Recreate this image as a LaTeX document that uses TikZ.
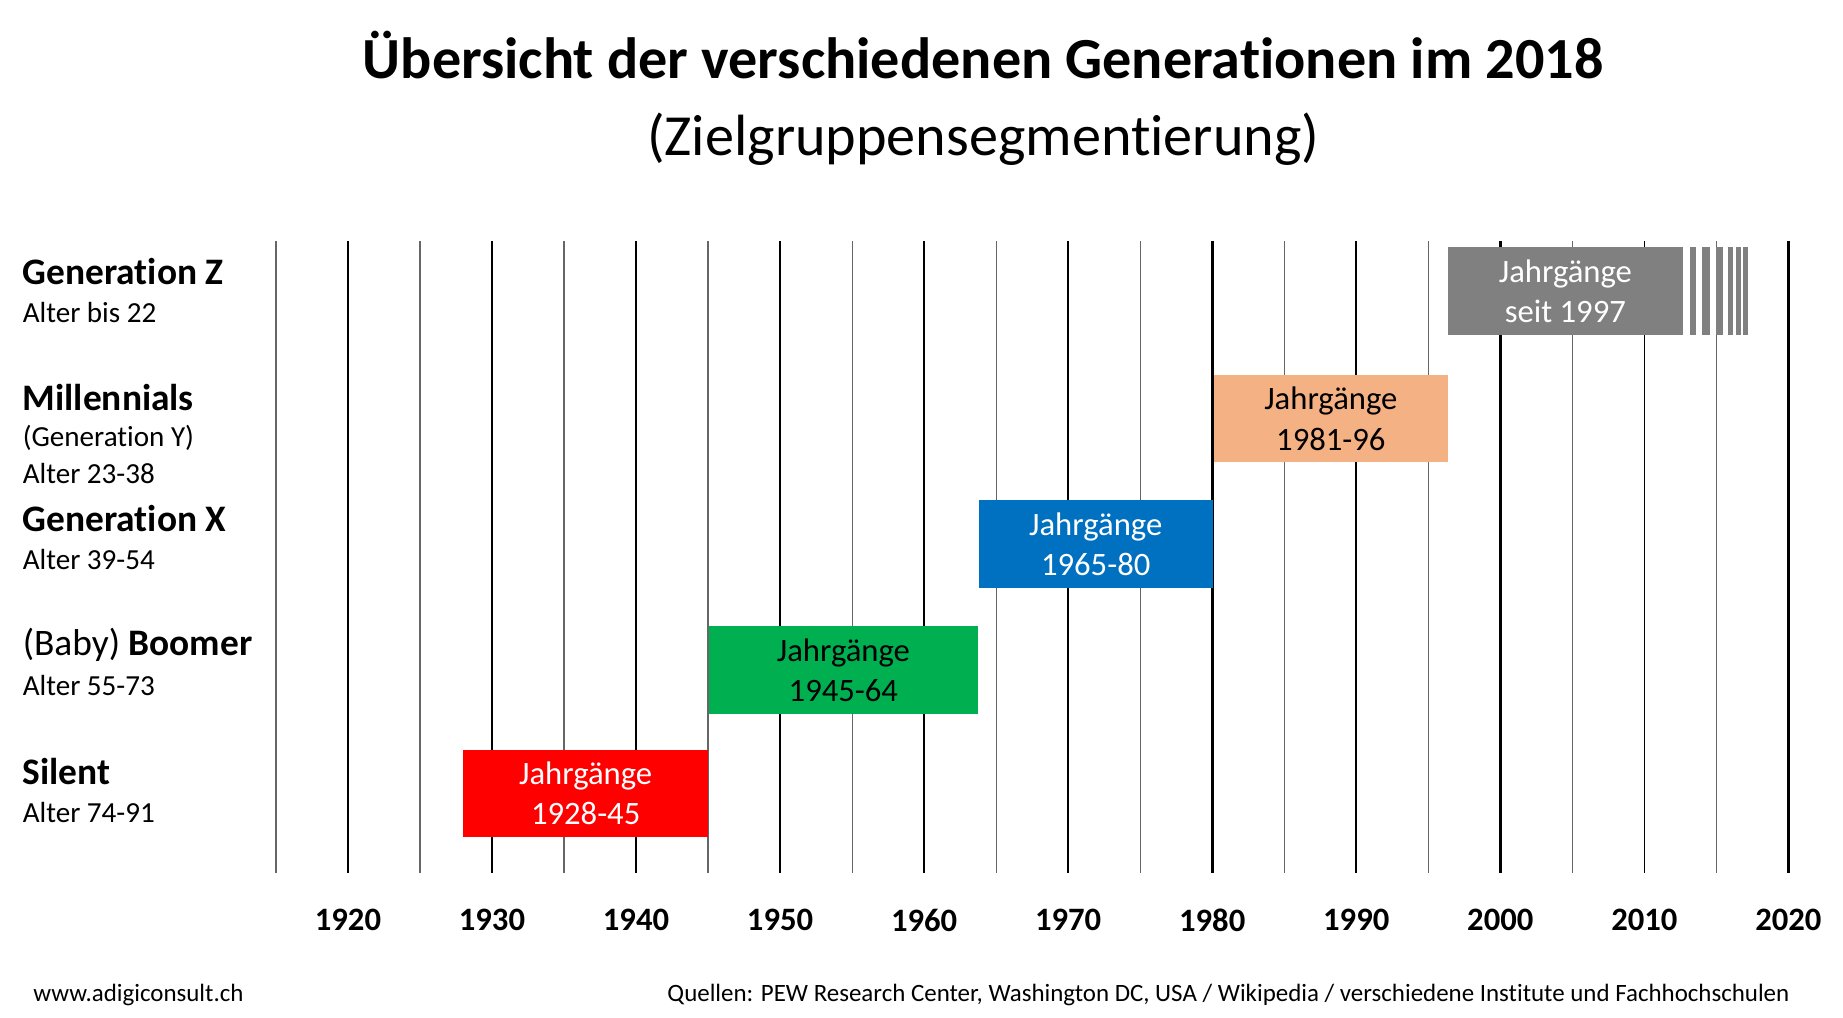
\documentclass[tikz,border=0pt]{standalone}
\usepackage{fontspec}
\setmainfont{Carlito}[Ligatures={NoCommon}]
\begin{document}
\begin{tikzpicture}[x=1pt,y=-1pt,
 bar/.style={draw=none,inner sep=0pt,anchor=north west,align=center,font=\fontsize{27.5}{34}\selectfont},
 lab/.style={anchor=west,inner sep=0pt},
 big/.style={font=\fontsize{31.5}{33}\selectfont\bfseries},
 small/.style={font=\fontsize{24.5}{26}\selectfont},
 yr/.style={font=\fontsize{27.5}{29}\selectfont\bfseries}]
\useasboundingbox (0,0) rectangle (1552,857);
\definecolor{gz}{RGB}{128,128,128}
\definecolor{mo}{RGB}{244,177,131}
\definecolor{gx}{RGB}{0,112,192}
\definecolor{bg}{RGB}{0,176,80}
\definecolor{sr}{RGB}{255,0,0}
% grid
\foreach \y in {1915,1925,...,2015}{\draw[gray!80!black,line width=1pt] ({293+(\y-1920)*12.13},203) -- ({293+(\y-1920)*12.13},735);}
\foreach \y in {1930,1950,1970,1990,2010}{\draw[black,line width=1.3pt] ({293+(\y-1920)*12.13},203) -- ({293+(\y-1920)*12.13},735);}
\foreach \y in {1920,1940,...,2020}{\draw[black,line width=2.2pt] ({293+(\y-1920)*12.13},203) -- ({293+(\y-1920)*12.13},735);}
\foreach \y in {1920,1930,...,2020}{\node[yr] (y\y) at ({293+(\y-1920)*12.13},775) {\y};}
% bars
\node[bar,fill=gz,text=white,minimum width=198pt,minimum height=74pt] (bz) at (1219,208) {Jahrgänge\\seit 1997};
\foreach \a/\b [count=\i] in {1423/1428,1433.5/1440,1445/1451,1455.5/1459,1462/1466,1468/1472}
  \fill[gz] (\a,208) rectangle (\b,282);
\node[bar,fill=mo,text=black,minimum width=197pt,minimum height=73pt] (bm) at (1022,316) {Jahrgänge\\1981-96};
\node[bar,fill=gx,text=white,minimum width=197pt,minimum height=74pt] (bx) at (824,421) {Jahrgänge\\1965-80};
\node[bar,fill=bg,text=black,minimum width=226pt,minimum height=74pt] (bb) at (597,527) {Jahrgänge\\1945-64};
\node[bar,fill=sr,text=white,minimum width=206pt,minimum height=74pt] (bs) at (390,631) {Jahrgänge\\1928-45};
% left labels
\node[lab,big] (l1) at (19,229) {Generation Z};
\node[lab,small] (l1a) at (19,263) {Alter bis 22};
\node[lab,big] (l2) at (19,335) {Millennials};
\node[lab,small] (l2a) at (19,369) {(Generation Y)};
\node[lab,small] (l2b) at (19,399) {Alter 23-38};
\node[lab,big] (l3) at (19,437) {Generation X};
\node[lab,small] (l3a) at (19,471) {Alter 39-54};
\node[lab,font=\fontsize{31.5}{33}\selectfont] (l4) at (19,543) {(Baby) \textbf{Boomer}};
\node[lab,small] (l4a) at (19,577) {Alter 55-73};
\node[lab,big] (l5) at (19,650) {Silent};
\node[lab,small] (l5a) at (19,684) {Alter 74-91};
% titles
\node[font=\fontsize{49}{52}\selectfont\bfseries] (t) at (828,46) {Übersicht der verschiedenen Generationen im 2018};
\node[font=\fontsize{49}{52}\selectfont] (t2) at (828,117) {(Zielgruppensegmentierung)};
\node[lab,font=\fontsize{21}{23}\selectfont] (f1) at (28,838) {www.adigiconsult.ch};
\node[anchor=east,inner sep=0pt,font=\fontsize{21}{23}\selectfont] (f2) at (1507,838) {Quellen: PEW Research Center, Washington DC, USA / Wikipedia / verschiedene Institute und Fachhochschulen};
\end{tikzpicture}
\end{document}
